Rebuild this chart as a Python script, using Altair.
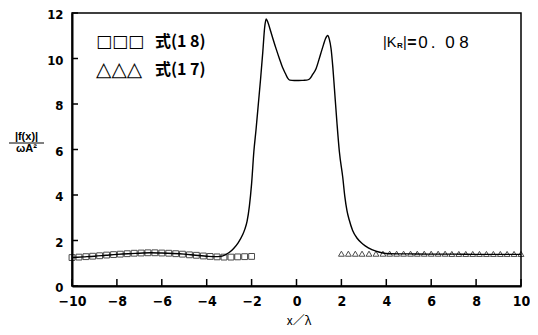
import altair as alt
import pandas as pd

# ---- data ----
line_x = [-10, -9.5, -9, -8.5, -8, -7.5, -7, -6.5, -6, -5.5, -5, -4.5, -4, -3.6, -3.4, -3.2, -3.0, -2.8, -2.6, -2.4,
          -2.3, -2.2, -2.1, -2.0, -1.9, -1.8, -1.7, -1.6, -1.5, -1.42, -1.35, -1.28, -1.15, -1.05, -0.9, -0.76, -0.62,
          -0.5, -0.4, -0.3, -0.1, 0.1, 0.3, 0.45, 0.58, 0.72, 0.87, 1.0, 1.1, 1.2, 1.29, 1.39, 1.46, 1.54, 1.62, 1.69,
          1.8, 1.91, 2.06, 2.15, 2.25, 2.35, 2.5, 2.7, 2.95, 3.2, 3.54, 3.8, 4.13, 5, 6, 7, 8, 9, 10]
line_y = [1.25, 1.28, 1.31, 1.35, 1.39, 1.42, 1.44, 1.46, 1.45, 1.43, 1.40, 1.35, 1.31, 1.29, 1.30, 1.36, 1.47, 1.65,
          1.9, 2.25, 2.5, 2.85, 3.5, 4.5, 5.9, 6.9, 8.0, 9.1, 10.3, 11.35, 11.74, 11.6, 11.2, 10.87, 10.4, 9.99, 9.6,
          9.35, 9.15, 9.05, 9.03, 9.03, 9.04, 9.05, 9.1, 9.3, 9.55, 9.95, 10.28, 10.6, 10.87, 11.01, 10.85, 10.43,
          9.6, 8.67, 7.2, 5.9, 4.78, 3.95, 3.3, 2.9, 2.44, 2.1, 1.85, 1.68, 1.53, 1.46, 1.42, 1.41, 1.40, 1.40, 1.39,
          1.39, 1.39]

sq_x = [-10, -9.69, -9.38, -9.08, -8.77, -8.46, -8.15, -7.85, -7.54, -7.23, -6.92, -6.62, -6.31, -6.0,
        -5.69, -5.38, -5.08, -4.77, -4.46, -4.15, -3.85, -3.54, -3.23, -2.92, -2.62, -2.31, -2.0]
sq_y = [1.25, 1.27, 1.29, 1.31, 1.33, 1.36, 1.38, 1.40, 1.42, 1.44, 1.45, 1.46, 1.46, 1.45,
        1.44, 1.42, 1.40, 1.37, 1.35, 1.32, 1.30, 1.28, 1.27, 1.27, 1.28, 1.29, 1.30]

tri_x = [2.0, 2.31, 2.62, 2.92, 3.23, 3.54, 3.85, 4.15, 4.46, 4.77, 5.08, 5.38, 5.69, 6.0,
         6.31, 6.62, 6.92, 7.23, 7.54, 7.85, 8.15, 8.46, 8.77, 9.08, 9.38, 9.69, 10.0]
tri_y = [1.42, 1.42, 1.42, 1.42, 1.42, 1.42, 1.42, 1.42, 1.42, 1.42, 1.42, 1.42, 1.42, 1.42,
         1.42, 1.42, 1.41, 1.41, 1.41, 1.41, 1.41, 1.41, 1.41, 1.41, 1.41, 1.41, 1.41]

x_ticks = [-10, -8, -6, -4, -2, 0, 2, 4, 6, 8, 10]
y_ticks = [0, 2, 4, 6, 8, 10, 12]

legend_sq = "□□□"
legend_tri = "△△△"
legend_sq_label = "式(1 8)"
legend_tri_label = "式(1 7)"
x_title = "x／λ"
y_num = "|f(x)|"
y_den = "ωA²"

# ---- chart ----
W, H = 449, 273
NARROW = "'Liberation Sans Narrow', 'DejaVu Sans Condensed', 'Roboto Condensed', sans-serif"
CJK = "Noto Sans CJK JP"

xs = alt.Scale(domain=[-10, 10], nice=False, zero=False)
ys = alt.Scale(domain=[0, 12], nice=False, zero=False)

x_axis = alt.Axis(values=x_ticks, ticks=False, grid=False, title=None, domainColor="black", domainWidth=2,
                  labelFont=NARROW, labelFontSize=14, labelFontWeight="bold", labelColor="black",
                  labelPadding=8.5, labelFlush=False, format="d")
y_axis = alt.Axis(values=y_ticks, ticks=False, grid=False, title=None, domainColor="black", domainWidth=2,
                  labelFont=NARROW, labelFontSize=13, labelFontWeight="bold", labelColor="black",
                  labelPadding=9, labelFlush=False, labelOffset=1.5, format="d")

df_line = pd.DataFrame({"x": line_x, "y": line_y})
df_sq = pd.DataFrame({"x": sq_x, "y": sq_y})
df_tri = pd.DataFrame({"x": tri_x, "y": tri_y})
df_xt = pd.DataFrame({"v": x_ticks})
df_yt = pd.DataFrame({"v": y_ticks})

line = alt.Chart(df_line).mark_line(color="black", strokeWidth=1.4, interpolate="monotone").encode(
    x=alt.X("x:Q", scale=xs, axis=x_axis),
    y=alt.Y("y:Q", scale=ys, axis=y_axis),
)
squares = alt.Chart(df_sq).mark_point(shape="square", filled=False, color="black", size=34, strokeWidth=1).encode(
    x=alt.X("x:Q", scale=xs), y=alt.Y("y:Q", scale=ys))
tris = alt.Chart(df_tri).mark_point(shape="triangle-up", filled=False, color="black", size=34, strokeWidth=1).encode(
    x=alt.X("x:Q", scale=xs), y=alt.Y("y:Q", scale=ys))

xtick = alt.Chart(df_xt).mark_rule(color="black", strokeWidth=1.5).encode(
    x=alt.X("v:Q", scale=xs), y=alt.value(H - 7), y2=alt.value(H))
ytick = alt.Chart(df_yt).mark_rule(color="black", strokeWidth=1.5).encode(
    y=alt.Y("v:Q", scale=ys), x=alt.value(0), x2=alt.value(6))


def txt(s, x, y, size, align="left", font=CJK, weight="normal"):
    return alt.Chart(alt.Data(values=[{}])).mark_text(
        text=s, align=align, baseline="middle", fontSize=size, font=font, fontWeight=weight, color="black"
    ).encode(x=alt.value(x), y=alt.value(y))


texts = [
    txt(legend_sq, 24, 29, 17, font="DejaVu Sans"),
    txt(legend_sq_label, 83, 29, 16, weight="bold"),
    txt(legend_tri, 24, 57, 20, font="DejaVu Sans"),
    txt(legend_tri_label, 83, 57, 16, weight="bold"),
    txt("|K", 311, 30, 14.5, font="Liberation Sans"),
    txt("R", 325, 32.5, 8, font="Liberation Sans", weight="bold"),
    txt("|", 331, 30, 14.5, font="Liberation Sans"),
    txt("=", 340, 30, 16, align="center", font="Liberation Sans", weight="bold"),
    txt("0", 351, 30, 17, align="center", font="Liberation Sans"),
    txt(".", 361, 30, 17, align="center", font="Liberation Sans"),
    txt("0", 378, 30, 17, align="center", font="Liberation Sans"),
    txt("8", 392, 30, 17, align="center", font="Liberation Sans"),
    txt(y_num, -45.5, 124, 11, align="center", font="Liberation Sans", weight="bold"),
    txt(y_den, -45.5, 136, 11, align="center", font="Liberation Sans", weight="bold"),
    txt(x_title, 227, 307.5, 12, align="center"),
]
frac = alt.Chart(alt.Data(values=[{}])).mark_rule(color="black", strokeWidth=1).encode(
    x=alt.value(-63), x2=alt.value(-28), y=alt.value(130))

chart = alt.layer(line, squares, tris, xtick, ytick, frac, *texts).properties(
    width=W, height=H,
    autosize=alt.AutoSizeParams(type="none"),
    padding={"left": 64, "top": 5, "right": 9, "bottom": 41},
    background="white",
).configure_view(stroke="black", strokeWidth=1.5)

chart.save("out.html", embed_options={"renderer": "svg", "actions": False})
